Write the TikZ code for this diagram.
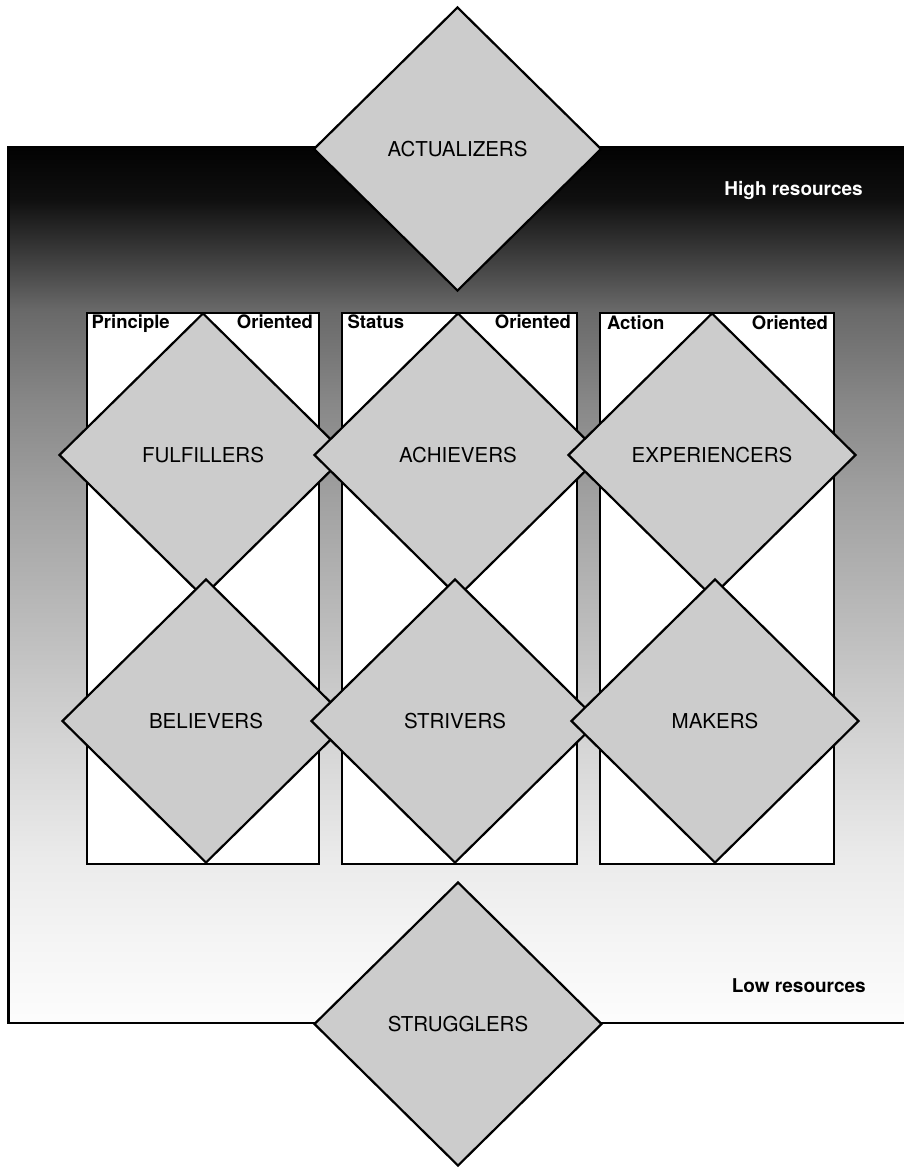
\documentclass[tikz,border=0pt]{standalone}
\usepackage{fontspec}
\setmainfont{TeX Gyre Heros}
\usetikzlibrary{shapes.geometric}

% dark-to-light backdrop for the resource scale (stops listed bottom to top)
\pgfdeclareverticalshading{resgrad}{100bp}{%
  rgb(0bp)=(0.99,0.99,0.99);
  rgb(25bp)=(0.99,0.99,0.99);
  rgb(29.5bp)=(0.96,0.96,0.96);
  rgb(34.5bp)=(0.92,0.92,0.92);
  rgb(43.5bp)=(0.80,0.80,0.80);
  rgb(55bp)=(0.63,0.63,0.63);
  rgb(60.5bp)=(0.53,0.53,0.53);
  rgb(65.7bp)=(0.41,0.41,0.41);
  rgb(69.1bp)=(0.22,0.22,0.22);
  rgb(72bp)=(0.06,0.06,0.06);
  rgb(75bp)=(0.01,0.01,0.01);
  rgb(100bp)=(0.01,0.01,0.01)}

\definecolor{segfill}{gray}{0.80}

\tikzset{
  segment/.style={shape=diamond, draw=black, fill=segfill, line width=2.2pt,
    inner sep=0pt, minimum width=288pt, minimum height=284pt,
    font=\fontsize{20.5}{24}\selectfont},
  column/.style={draw=black, fill=white, line width=2.2pt, inner sep=0pt,
    minimum width=#1, minimum height=551pt},
  collabel/.style={inner sep=0pt, font=\bfseries\fontsize{18.5}{22}\selectfont},
  reslabel/.style={inner sep=0pt, font=\bfseries\fontsize{19}{23}\selectfont},
}

\begin{document}
\begin{tikzpicture}[x=1pt,y=-1pt]
  \clip (0,0) rectangle (904,1168);
  \fill[white] (0,0) rectangle (904,1168);

  % resource band
  \draw[line width=2.2pt, shade, shading=resgrad] (8.5,147) rectangle (915,1023);

  % self-orientation columns
  \node[column=232pt] (col1) at (203,588.5) {};
  \node[column=235pt] (col2) at (459.5,588.5) {};
  \node[column=234pt] (col3) at (717,588.5) {};

  \node[collabel, anchor=base west] (c1a) at ([xshift=5.5pt,yshift=-16.5pt]col1.north west) {Principle};
  \node[collabel, anchor=base east] (c1b) at ([xshift=-7pt,yshift=-16.5pt]col1.north east) {Oriented};
  \node[collabel, anchor=base west] (c2a) at ([xshift=6.5pt,yshift=-17pt]col2.north west) {Status};
  \node[collabel, anchor=base east] (c2b) at ([xshift=-7pt,yshift=-17pt]col2.north east) {Oriented};
  \node[collabel, anchor=base west] (c3a) at ([xshift=8pt,yshift=-17.5pt]col3.north west) {Action};
  \node[collabel, anchor=base east] (c3b) at ([xshift=-7pt,yshift=-17.5pt]col3.north east) {Oriented};

  % resource labels
  \node[reslabel, white, anchor=base east] (hi) at (863,195) {High resources};
  \node[reslabel, black, anchor=base east] (lo) at (866,992) {Low resources};

  % segments, upper row then lower row
  \node[segment] (ful) at (203,455) {FULFILLERS};
  \node[segment] (ach) at (458,455) {ACHIEVERS};
  \node[segment] (exp) at (712,455) {EXPERIENCERS};
  \node[segment] (bel) at (206,721) {BELIEVERS};
  \node[segment] (str) at (455,721) {STRIVERS};
  \node[segment] (mak) at (715,721) {MAKERS};

  \node[segment] (act) at (457.5,149) {ACTUALIZERS};
  \node[segment] (stg) at (458,1024) {STRUGGLERS};
\end{tikzpicture}
\end{document}
